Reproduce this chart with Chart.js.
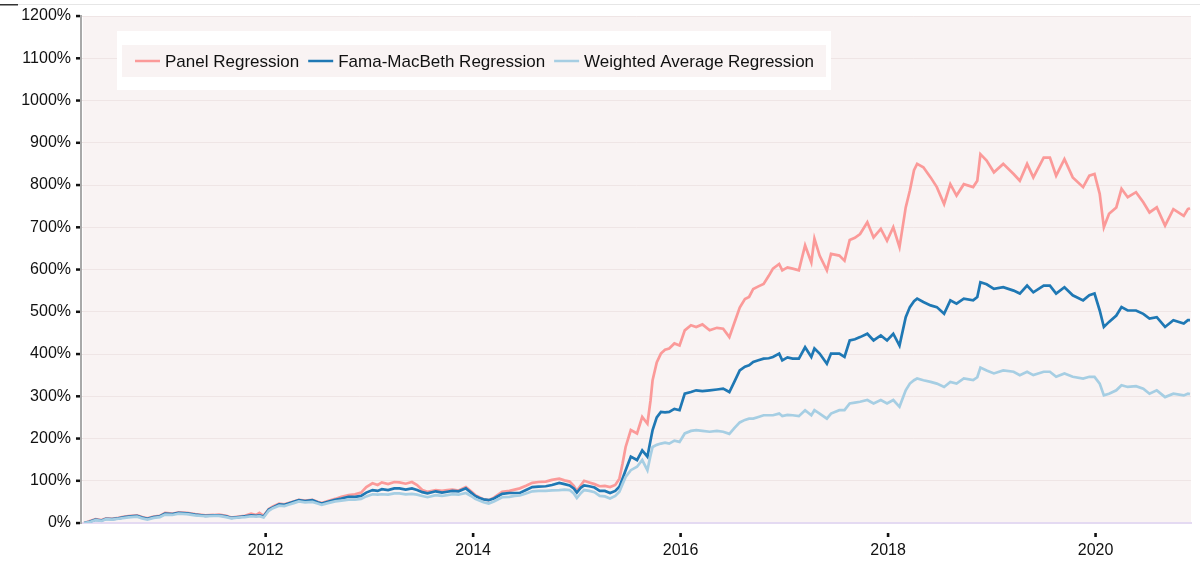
<!DOCTYPE html>
<html lang="en">
<head>
<meta charset="UTF-8">
<title>Regression strategies - cumulative return</title>
<script src="https://cdn.jsdelivr.net/npm/chart.js@4.4.1/dist/chart.umd.min.js"></script>
<style>
  body { margin: 0; background: #fff; }
  .chart-container { width: 1200px; height: 564px; }
</style>
</head>
<body>

<!--chart canvas start-->
<div class="chart-container">
  <canvas id="chart" width="1200" height="564"></canvas>
</div>
<!--chart canvas end-->

<script>

// dates as decimal years, values in % cumulative return
const dates = [
  2010.25, 2010.30, 2010.36, 2010.42, 2010.46, 2010.52, 2010.58, 2010.64, 2010.70, 2010.76,
  2010.81, 2010.86, 2010.92, 2010.98, 2011.03, 2011.10, 2011.16, 2011.24, 2011.32, 2011.42,
  2011.50, 2011.55, 2011.62, 2011.67, 2011.74, 2011.80, 2011.86, 2011.91, 2011.94, 2011.98,
  2012.03, 2012.07, 2012.13, 2012.18, 2012.22, 2012.27, 2012.32, 2012.38, 2012.45, 2012.50,
  2012.54, 2012.60, 2012.67, 2012.73, 2012.80, 2012.86, 2012.92, 2012.97, 2013.03, 2013.08,
  2013.12, 2013.18, 2013.24, 2013.29, 2013.35, 2013.41, 2013.46, 2013.51, 2013.56, 2013.64,
  2013.70, 2013.75, 2013.80, 2013.86, 2013.93, 2013.98, 2014.02, 2014.06, 2014.10, 2014.15,
  2014.20, 2014.28, 2014.35, 2014.40, 2014.45, 2014.51, 2014.57, 2014.63, 2014.70, 2014.76,
  2014.83, 2014.88, 2014.93, 2014.97, 2015.00, 2015.04, 2015.07, 2015.12, 2015.17, 2015.22,
  2015.27, 2015.32, 2015.37, 2015.41, 2015.44, 2015.47, 2015.52, 2015.58, 2015.63, 2015.68,
  2015.71, 2015.73, 2015.77, 2015.81, 2015.85, 2015.89, 2015.94, 2015.99, 2016.04, 2016.10,
  2016.15, 2016.21, 2016.28, 2016.35, 2016.41, 2016.47, 2016.52, 2016.57, 2016.62, 2016.66,
  2016.70, 2016.75, 2016.80, 2016.85, 2016.89, 2016.95, 2016.98, 2017.03, 2017.08, 2017.14,
  2017.20, 2017.26, 2017.29, 2017.34, 2017.41, 2017.45, 2017.53, 2017.58, 2017.63, 2017.68,
  2017.73, 2017.80, 2017.86, 2017.93, 2017.99, 2018.05, 2018.11, 2018.17, 2018.21, 2018.25,
  2018.28, 2018.34, 2018.41, 2018.47, 2018.54, 2018.60, 2018.66, 2018.73, 2018.82, 2018.86,
  2018.89, 2018.95, 2019.02, 2019.11, 2019.21, 2019.27, 2019.34, 2019.40, 2019.50, 2019.56,
  2019.62, 2019.70, 2019.78, 2019.88, 2019.94, 2019.99, 2020.04, 2020.08, 2020.13, 2020.20,
  2020.25, 2020.31, 2020.39, 2020.46, 2020.52, 2020.59, 2020.67, 2020.75, 2020.85, 2020.89,
  2020.91
];

const panel = [
  0, 4, 9, 7, 11, 10, 12, 15, 17, 18,
  14, 11, 15, 17, 24, 22, 25, 24, 21, 18,
  19, 20, 17, 13, 15, 17, 22, 19, 24, 17,
  33, 39, 46, 44, 47, 51, 55, 53, 55, 50,
  47, 52, 57, 62, 66, 68, 72, 85, 94, 90,
  96, 92, 97, 96, 93, 97, 90, 78, 74, 78,
  76, 78, 79, 77, 85, 75, 66, 61, 56, 54,
  60, 74, 76, 79, 82, 88, 95, 97, 98, 102,
  105, 101, 98, 88, 76, 90, 100, 96, 92, 87,
  88, 85, 90, 105, 140, 180, 220, 212, 251, 235,
  290, 338, 380, 401, 410, 413, 425, 420, 456, 468,
  464, 470, 456, 462, 460, 440, 475, 510, 530, 535,
  554, 560, 566, 585, 602, 613, 598, 605, 602, 598,
  657, 617, 673, 633, 598, 637, 633, 621, 670, 675,
  684, 712, 676, 696, 668, 700, 653, 747, 787, 835,
  850, 842, 818, 795, 755, 802, 775, 802, 795, 810,
  873, 858, 830, 850, 826, 810, 850, 818, 865, 865,
  822, 861, 818, 795, 822, 826, 779, 700, 732, 747,
  791, 771, 783, 759, 735, 747, 704, 743, 727, 743,
  745
];

const famaMacbeth = [
  0, 3, 8, 6, 10, 9, 11, 14, 16, 17,
  13, 10, 14, 16, 22, 21, 24, 23, 20, 17,
  18, 18, 16, 12, 14, 16, 18, 17, 18, 15,
  32, 37, 44, 43, 46, 50, 54, 52, 54, 49,
  46, 50, 55, 58, 62, 62, 64, 72, 78, 76,
  80, 78, 82, 82, 79, 82, 78, 73, 70, 75,
  72, 74, 76, 75, 82, 72, 64, 59, 56, 54,
  58, 69, 71, 71, 71, 78, 85, 86, 87, 90,
  95, 92, 89, 82, 72, 84, 89, 87, 84, 76,
  76, 71, 76, 86, 105, 125, 157, 149, 172, 157,
  195, 220, 250, 263, 262, 263, 270, 267, 306, 310,
  314, 312, 314, 316, 318, 310, 335, 361, 370, 373,
  381, 385, 389, 390, 393, 401, 385, 392, 389, 389,
  416, 393, 413, 401, 377, 401, 401, 393, 432, 435,
  440, 448, 432, 444, 432, 448, 420, 487, 511, 525,
  531, 523, 515, 511, 495, 527, 519, 531, 527, 535,
  570, 565, 554, 558, 550, 543, 562, 546, 562, 562,
  543, 558, 539, 527, 539, 543, 503, 464, 476, 491,
  511, 503, 503, 495, 484, 487, 464, 480, 472, 480,
  480
];

const weighted = [
  0, 2, 7, 5, 9, 8, 10, 12, 14, 15,
  11, 8, 12, 14, 20, 19, 22, 21, 18, 16,
  17, 17, 14, 11, 13, 14, 16, 15, 16, 13,
  29, 35, 41, 40, 43, 47, 51, 49, 50, 46,
  43, 47, 51, 53, 55, 55, 57, 63, 68, 67,
  68, 67, 70, 70, 68, 69, 67, 64, 61, 66,
  64, 66, 68, 67, 71, 64, 57, 53, 49, 46,
  51, 61, 62, 64, 65, 70, 75, 76, 76, 77,
  78, 79, 78, 70, 59, 71, 78, 76, 73, 64,
  63, 58, 64, 74, 92, 109, 125, 133, 149, 125,
  160, 180, 185, 188, 190, 188, 195, 192, 212, 218,
  220, 218, 216, 218, 216, 211, 225, 238, 244, 247,
  247, 251, 255, 255, 255, 259, 253, 256, 255, 253,
  267, 255, 267, 259, 247, 259, 267, 267, 283, 285,
  287, 291, 283, 291, 283, 291, 275, 314, 330, 338,
  342, 338, 334, 330, 322, 334, 330, 342, 338, 345,
  368, 361, 354, 361, 358, 350, 358, 350, 358, 358,
  346, 354, 346, 342, 346, 346, 330, 302, 306, 314,
  326, 322, 324, 318, 306, 314, 298, 306, 302, 306,
  305
];

const seriesNames = ['Panel Regression', 'Fama-MacBeth Regression', 'Weighted Average Regression'];
const seriesColors = ['#fb9a99', '#1f78b4', '#a6cee3'];
const xTicks = [2012, 2014, 2016, 2018, 2020];
const yTicks = [0, 100, 200, 300, 400, 500, 600, 700, 800, 900, 1000, 1100, 1200];

function toPoints(ys) {
  return dates.map((d, i) => ({ x: d, y: ys[i] }));
}

// background, tick marks, legend box
const decorPlugin = {
  id: 'decor',
  beforeDraw(chart) {
    const { ctx, chartArea } = chart;
    ctx.save();
    ctx.fillStyle = '#f9f3f3';
    ctx.fillRect(chartArea.left + 2, chartArea.top, chartArea.right - chartArea.left - 2, chartArea.bottom - chartArea.top);
    // faint frame line at top
    ctx.fillStyle = '#e6e6e6';
    ctx.fillRect(18, 4, 1182, 1);
    ctx.fillStyle = '#333';
    ctx.fillRect(0, 4, 18, 1.5);
    ctx.restore();
  },
  afterDraw(chart) {
    const { ctx, chartArea, scales } = chart;
    ctx.save();
    ctx.fillStyle = '#111';
    yTicks.forEach(v => {
      const y = scales.y.getPixelForValue(v);
      ctx.fillRect(chartArea.left - 5, y - 1.2, 4, 2.5);
    });
    xTicks.forEach(v => {
      const x = scales.x.getPixelForValue(v);
      ctx.fillRect(x - 1.3, chartArea.bottom + 10, 2.6, 4);
    });

    // legend
    ctx.fillStyle = '#ffffff';
    ctx.fillRect(117, 31, 714, 59);
    ctx.fillStyle = '#f9f3f3';
    ctx.fillRect(122, 45, 704, 32);
    ctx.font = '17px "Liberation Sans", Arial, sans-serif';
    ctx.textBaseline = 'middle';
    let x = 135;
    seriesNames.forEach((name, i) => {
      ctx.strokeStyle = seriesColors[i];
      ctx.lineWidth = 2.5;
      ctx.beginPath();
      ctx.moveTo(x, 61);
      ctx.lineTo(x + 25, 61);
      ctx.stroke();
      ctx.fillStyle = '#111';
      ctx.fillText(name, x + 30, 62);
      x += 30 + ctx.measureText(name).width + 9;
    });
    ctx.restore();
  }
};

const ctx = document.getElementById('chart').getContext('2d');

const myChart = new Chart(ctx, {
  type: 'line',
  data: {
    datasets: [
      { label: seriesNames[0], data: toPoints(panel), borderColor: seriesColors[0], order: 2 },
      { label: seriesNames[1], data: toPoints(famaMacbeth), borderColor: seriesColors[1], order: 1 },
      { label: seriesNames[2], data: toPoints(weighted), borderColor: seriesColors[2], order: 0 }
    ]
  },
  options: {
    responsive: false,
    animation: false,
    parsing: false,
    elements: {
      point: { radius: 0 },
      line: { borderWidth: 2.7, tension: 0, fill: false }
    },
    layout: {
      padding: { left: 8, right: 9, top: 16, bottom: 0 }
    },
    plugins: {
      legend: { display: false },
      tooltip: { enabled: false }
    },
    scales: {
      x: {
        type: 'linear',
        min: 2010.22,
        max: 2020.92,
        afterBuildTicks: axis => { axis.ticks = xTicks.map(v => ({ value: v })); },
        afterFit: axis => { axis.height = 41; axis.paddingLeft = 0; axis.paddingRight = 0; },
        grid: { display: false, drawTicks: false },
        border: { display: true, color: '#e4daf2', width: 2 },
        ticks: {
          color: '#111',
          font: { family: '"Liberation Sans", Arial, sans-serif', size: 16 },
          padding: 18,
          maxRotation: 0,
          callback: v => String(v)
        }
      },
      y: {
        min: 0,
        max: 1200,
        afterBuildTicks: axis => { axis.ticks = yTicks.map(v => ({ value: v })); },
        afterFit: axis => { axis.width = 73; axis.paddingTop = 0; axis.paddingBottom = 0; },
        grid: {
          drawTicks: false,
          color: c => (c.tick && c.tick.value === 0) ? 'rgba(0,0,0,0)' : '#efe5e5',
          lineWidth: 1
        },
        border: { display: true, color: '#a9a9a9', width: 2 },
        ticks: {
          color: '#111',
          font: { family: '"Liberation Sans", Arial, sans-serif', size: 16 },
          padding: 10,
          callback: v => v + '%'
        }
      }
    }
  },
  plugins: [decorPlugin]
});

</script>
</body>
</html>
